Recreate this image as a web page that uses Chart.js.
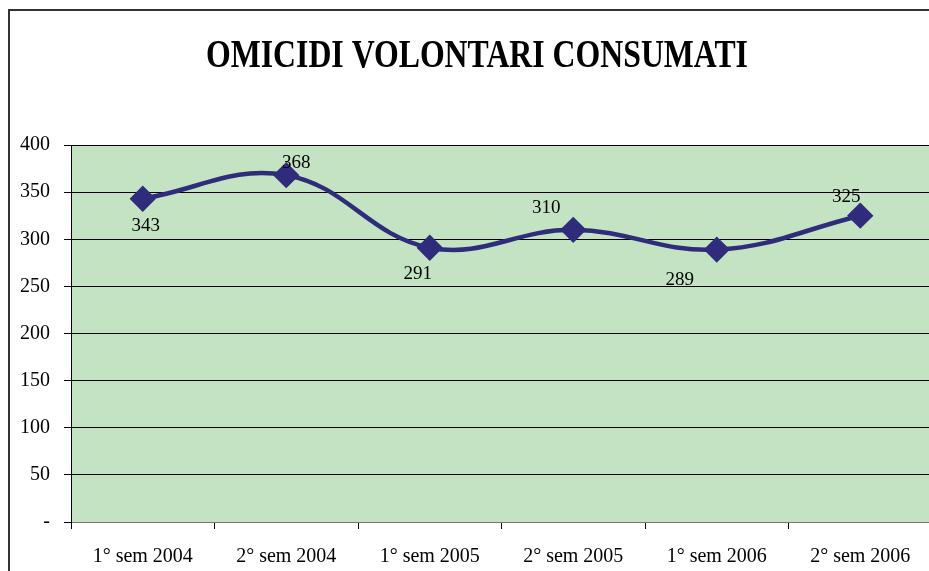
<!DOCTYPE html>
<html>
<head>
<meta charset="utf-8">
<script src="https://cdn.jsdelivr.net/npm/chart.js@4.4.1/dist/chart.umd.min.js"></script>
<style>
    html, body { margin: 0; padding: 0; background: #fff; overflow: hidden; }
    #wrap { position: relative; width: 929px; height: 571px; overflow: hidden; }
    #frame { position: absolute; left: 8px; top: 9px; width: 960px; height: 600px;
             border-left: 2px solid #333; border-top: 2px solid #333; }
    #chart { position: absolute; left: 0; top: 0; }
</style>
</head>
<body>
<div id="wrap">
    <div id="frame"></div>
    <canvas id="chart" width="935" height="571"></canvas>
</div>
<script>
// Chart data
const titleText = 'OMICIDI VOLONTARI CONSUMATI';
const periods = ['1° sem 2004', '2° sem 2004', '1° sem 2005', '2° sem 2005', '1° sem 2006', '2° sem 2006'];
const homicides = [343, 368, 291, 310, 289, 325];
const yTicks = [0, 50, 100, 150, 200, 250, 300, 350, 400];

// Label offsets from each point (Excel placed them by hand)
const labelOffsets = [[3, 27], [10, -12], [-12, 26], [-27, -22], [-37, 30], [-14, -19]];

const lineColor = '#302c7c';
const serif = '"Liberation Serif", "Times New Roman", serif';

// Green plot background
const plotBackground = {
    id: 'plotBackground',
    beforeDraw(chart) {
        const { ctx, chartArea: a } = chart;
        ctx.save();
        ctx.fillStyle = '#c4e3c3';
        ctx.fillRect(a.left, a.top, a.right - a.left, a.bottom - a.top);
        ctx.restore();
    }
};

// Condensed bold title, like the original
const condensedTitle = {
    id: 'condensedTitle',
    afterDraw(chart) {
        const ctx = chart.ctx;
        ctx.save();
        ctx.translate(477, 67);
        ctx.scale(0.775, 1);
        ctx.font = 'bold 41px ' + serif;
        ctx.fillStyle = '#000';
        ctx.textAlign = 'center';
        ctx.textBaseline = 'alphabetic';
        ctx.fillText(titleText, 0, 0);
        ctx.restore();
    }
};

// Value labels
const valueLabels = {
    id: 'valueLabels',
    afterDatasetsDraw(chart) {
        const ctx = chart.ctx;
        const meta = chart.getDatasetMeta(0);
        ctx.save();
        ctx.font = '19px ' + serif;
        ctx.fillStyle = '#000';
        ctx.textAlign = 'center';
        ctx.textBaseline = 'middle';
        meta.data.forEach((pt, i) => {
            const off = labelOffsets[i];
            ctx.fillText(homicides[i], pt.x + off[0], pt.y + off[1]);
        });
        ctx.restore();
    }
};

new Chart(document.getElementById('chart'), {
    type: 'line',
    data: {
        labels: periods,
        datasets: [{
            data: homicides,
            borderColor: lineColor,
            backgroundColor: lineColor,
            borderWidth: 4.5,
            tension: 0.4,
            pointStyle: 'rectRot',
            pointRadius: 10,
            pointHoverRadius: 10,
            pointBackgroundColor: lineColor,
            pointBorderColor: lineColor,
            clip: false
        }]
    },
    options: {
        responsive: false,
        animation: false,
        events: [],
        layout: { autoPadding: false, padding: { left: 0, right: 3, top: 145, bottom: 0 } },
        plugins: {
            legend: { display: false },
            title: { display: false },
            tooltip: { enabled: false }
        },
        scales: {
            x: {
                offset: true,
                grid: { offset: true, drawOnChartArea: false, tickLength: 7, color: '#000' },
                border: { color: '#777', width: 1 },
                ticks: { color: '#000', font: { family: serif, size: 20 }, padding: 16, maxRotation: 0, autoSkip: false },
                afterFit(scale) {
                    scale.height = 49;
                    scale.paddingLeft = 0;
                    scale.paddingRight = 0;
                }
            },
            y: {
                min: 0,
                max: 400,
                afterBuildTicks(scale) { scale.ticks = yTicks.map(v => ({ value: v })); },
                grid: { color: '#000', tickLength: 7, lineWidth: 1 },
                border: { color: '#000', width: 1 },
                ticks: {
                    color: '#000',
                    font: { family: serif, size: 20 },
                    padding: 14,
                    callback: v => v === 0 ? '-' : v
                },
                afterFit(scale) {
                    scale.width = 71;
                    scale.paddingTop = 0;
                    scale.paddingBottom = 0;
                }
            }
        }
    },
    plugins: [plotBackground, valueLabels, condensedTitle]
});
</script>
</body>
</html>
